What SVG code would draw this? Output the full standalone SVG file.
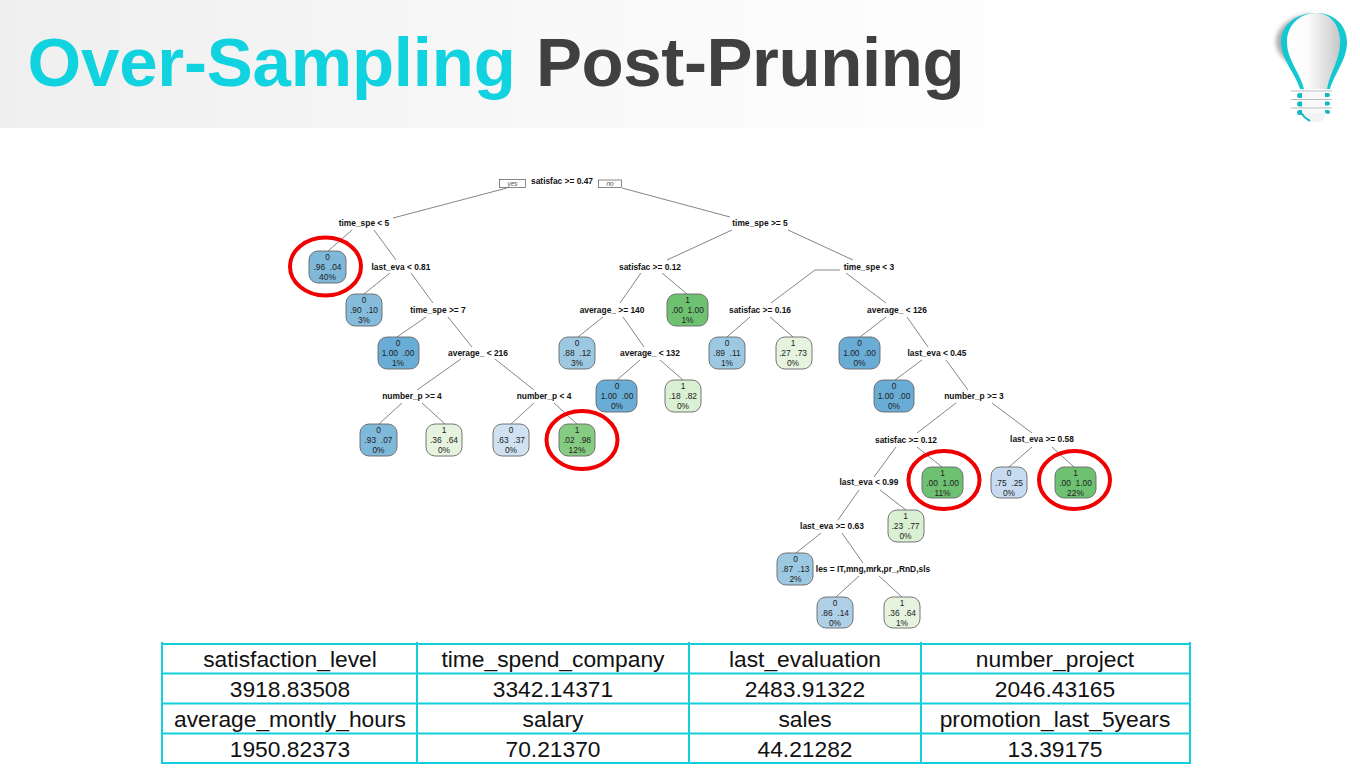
<svg xmlns="http://www.w3.org/2000/svg" width="1360" height="769" viewBox="0 0 1360 769">
<style>
.t{font-family:"Liberation Sans",Arial,sans-serif}
.title{font-size:69px;font-weight:700}
.l{font-family:"Liberation Sans",Arial,sans-serif;font-size:8.4px;font-weight:700;text-anchor:middle;fill:#111}
.n{font-family:"Liberation Sans",Arial,sans-serif;font-size:8.4px;text-anchor:middle;fill:#222;white-space:pre}
.c line,.c polyline{stroke:#666;stroke-width:.8;fill:none}
.b{stroke:#666;stroke-width:.9}
.ring{fill:none;stroke:#f00000;stroke-width:4}
.tb{font-family:"Liberation Sans",Arial,sans-serif;font-size:22.8px;text-anchor:middle;fill:#111}
.g line{stroke:#12cfdb;stroke-width:2}
.yn{fill:#fff;stroke:#555;stroke-width:.7}
.ynt{font-family:"Liberation Sans",Arial,sans-serif;font-size:6.5px;font-style:italic;text-anchor:middle;fill:#555}
</style>
<defs>
<linearGradient id="hd" x1="0" x2="1" y1="0" y2="0"><stop offset="0" stop-color="#efefef"/><stop offset=".55" stop-color="#f8f8f8"/><stop offset="1" stop-color="#fefefe"/></linearGradient>
<linearGradient id="bulb" x1="0" x2="1" y1="0" y2="0"><stop offset="0" stop-color="#fff"/><stop offset=".4" stop-color="#fbfbfb"/><stop offset=".75" stop-color="#dedede"/><stop offset="1" stop-color="#c4c8c8"/></linearGradient>
<filter id="blur" x="-30%" y="-30%" width="160%" height="160%"><feGaussianBlur stdDeviation="2"/></filter>
</defs>
<rect id="header" x="0" y="0" width="985" height="128" fill="url(#hd)"/>
<g id="title"><text class="t title" x="27.500" y="86" fill="#10d3df" letter-spacing="-.2">Over-Sampling</text><text class="t title" x="536" y="86" fill="#404040" letter-spacing="-.4">Post-Pruning</text></g>
<g id="bulb-icon">
<path d="M1276 42C1276 28 1290 15 1312 14L1300 40L1292 66C1283 58 1276 52 1276 42Z" fill="#777" opacity=".6" filter="url(#blur)"/>
<path d="M1281 42C1281 25 1296 13 1316 13C1335 13 1347 26 1347 42C1347 60 1335 72 1330 89L1300 89C1295 72 1281 60 1281 42Z" fill="#14c8d2"/>
<path d="M1287 42C1287 25 1300 13 1316 13C1332 13 1340 27 1340 42C1340 60 1330 72 1327 89L1304 89C1300 72 1287 60 1287 42Z" fill="url(#bulb)"/>
<path d="M1291 91H1332M1291 99.500H1332M1291 108H1332" stroke="#b4bcbd" stroke-width="1" fill="none"/>
<g fill="#14b8c2"><rect x="1297" y="93" width="8" height="5" rx="2.500"/><rect x="1297" y="101.500" width="8" height="5" rx="2.500"/><rect x="1297" y="110" width="8" height="5" rx="2.500"/><rect x="1323" y="93" width="7" height="4" rx="2"/><rect x="1323" y="101.500" width="7" height="4" rx="2"/><rect x="1323" y="110" width="7" height="4" rx="2"/></g>
<g fill="#f8f8f8"><rect x="1302" y="92.500" width="23" height="6"/><rect x="1302" y="101" width="23" height="6"/><rect x="1302" y="109.500" width="23" height="4"/></g>
<path d="M1302 113H1327L1323 120C1319 123 1312 123 1309 120Z" fill="#f2f2f2"/>
<path d="M1301 113C1303 116 1306 119 1310 121" fill="none" stroke="#14b8c2" stroke-width="2"/>
</g>
<g id="connectors" class="c">
<line x1="507" y1="188" x2="393" y2="218"/><line x1="622" y1="188" x2="730" y2="217"/>
<line x1="352" y1="230" x2="328" y2="251"/><line x1="374" y1="230" x2="396" y2="260"/>
<line x1="390" y1="273" x2="364" y2="294"/><line x1="411" y1="273" x2="433" y2="303"/>
<line x1="426" y1="317" x2="397" y2="337"/><line x1="448" y1="317" x2="472" y2="347"/>
<line x1="461" y1="359" x2="417" y2="390"/><line x1="495" y1="359" x2="534" y2="390"/>
<line x1="402" y1="403" x2="379" y2="424"/><line x1="422" y1="403" x2="445" y2="424"/>
<line x1="534" y1="403" x2="511" y2="424"/><line x1="554" y1="403" x2="577" y2="424"/>
<line x1="732" y1="230" x2="667" y2="260"/><line x1="788" y1="230" x2="853" y2="260"/>
<line x1="641" y1="273" x2="620" y2="303"/><line x1="662" y1="273" x2="687" y2="294"/>
<polyline points="840,270 815,270 771,303"/><line x1="846" y1="273" x2="886" y2="303"/>
<line x1="603" y1="317" x2="578" y2="337"/><line x1="623" y1="317" x2="644" y2="347"/>
<line x1="750" y1="317" x2="727" y2="337"/><line x1="770" y1="317" x2="793" y2="337"/>
<line x1="886" y1="317" x2="860" y2="337"/><line x1="907" y1="317" x2="928" y2="347"/>
<line x1="640" y1="360" x2="617" y2="380"/><line x1="660" y1="360" x2="683" y2="380"/>
<line x1="922" y1="360" x2="895" y2="380"/><line x1="946" y1="360" x2="968" y2="390"/>
<line x1="956" y1="403" x2="917" y2="433"/><line x1="992" y1="403" x2="1032" y2="433"/>
<line x1="896" y1="447" x2="874" y2="477"/><line x1="917" y1="447" x2="942" y2="467"/>
<line x1="1032" y1="447" x2="1009" y2="467"/><line x1="1052" y1="447" x2="1074" y2="467"/>
<line x1="859" y1="490" x2="838" y2="520"/><line x1="880" y1="490" x2="906" y2="510"/>
<line x1="821" y1="533" x2="796" y2="553"/><line x1="842" y1="533" x2="863" y2="563"/>
<line x1="859" y1="576" x2="836" y2="597"/><line x1="879" y1="576" x2="902" y2="597"/>
</g>
<g id="decision-labels">
<rect class="yn" x="499.500" y="179.500" width="26" height="8"/><text class="ynt" x="512.500" y="186">yes</text>
<rect class="yn" x="598.500" y="180" width="23" height="7.500"/><text class="ynt" x="610" y="186">no</text>
<text class="l" x="562" y="184">satisfac &gt;= 0.47</text>
<text class="l" x="364" y="226">time_spe &lt; 5</text>
<text class="l" x="401" y="270">last_eva &lt; 0.81</text>
<text class="l" x="438" y="313">time_spe &gt;= 7</text>
<text class="l" x="478" y="356">average_ &lt; 216</text>
<text class="l" x="412" y="399">number_p &gt;= 4</text>
<text class="l" x="544" y="399">number_p &lt; 4</text>
<text class="l" x="760" y="226">time_spe &gt;= 5</text>
<text class="l" x="650" y="270">satisfac &gt;= 0.12</text>
<text class="l" x="869" y="270">time_spe &lt; 3</text>
<text class="l" x="612" y="313">average_ &gt;= 140</text>
<text class="l" x="760" y="313">satisfac &gt;= 0.16</text>
<text class="l" x="897" y="313">average_ &lt; 126</text>
<text class="l" x="650" y="356">average_ &lt; 132</text>
<text class="l" x="937" y="356">last_eva &lt; 0.45</text>
<text class="l" x="974" y="399">number_p &gt;= 3</text>
<text class="l" x="906" y="443">satisfac &gt;= 0.12</text>
<text class="l" x="1042" y="442">last_eva &gt;= 0.58</text>
<text class="l" x="869" y="485">last_eva &lt; 0.99</text>
<text class="l" x="832" y="529">last_eva &gt;= 0.63</text>
<text class="l" x="873" y="572">les = IT,mng,mrk,pr_,RnD,sls</text>
</g>
<g id="n1"><rect class="b" x="309" y="251" width="37" height="32" rx="9" fill="#7fb8d9"/><text class="n" x="327.500" y="260">0</text><text class="n" x="327.500" y="270">.96  .04</text><text class="n" x="327.500" y="280">40%</text></g>
<g id="n2"><rect class="b" x="346" y="294" width="36" height="32" rx="9" fill="#86bcdb"/><text class="n" x="364" y="303">0</text><text class="n" x="364" y="313">.90  .10</text><text class="n" x="364" y="323">3%</text></g>
<g id="n3"><rect class="b" x="378" y="337" width="41" height="32" rx="9" fill="#69add6"/><text class="n" x="398" y="346">0</text><text class="n" x="398" y="356">1.00  .00</text><text class="n" x="398" y="366">1%</text></g>
<g id="n4"><rect class="b" x="360" y="424" width="37" height="32" rx="9" fill="#7fb8d9"/><text class="n" x="378.500" y="433">0</text><text class="n" x="378.500" y="443">.93  .07</text><text class="n" x="378.500" y="453">0%</text></g>
<g id="n5"><rect class="b" x="426" y="424" width="36" height="32" rx="9" fill="#e5f3df"/><text class="n" x="444" y="433">1</text><text class="n" x="444" y="443">.36  .64</text><text class="n" x="444" y="453">0%</text></g>
<g id="n6"><rect class="b" x="493" y="424" width="36" height="32" rx="9" fill="#d0e2f2"/><text class="n" x="511" y="433">0</text><text class="n" x="511" y="443">.63  .37</text><text class="n" x="511" y="453">0%</text></g>
<g id="n7"><rect class="b" x="559" y="424" width="36" height="32" rx="9" fill="#86cb82"/><text class="n" x="577" y="433">1</text><text class="n" x="577" y="443">.02  .98</text><text class="n" x="577" y="453">12%</text></g>
<g id="n8"><rect class="b" x="559" y="337" width="36" height="32" rx="9" fill="#9cc8e1"/><text class="n" x="577" y="346">0</text><text class="n" x="577" y="356">.88  .12</text><text class="n" x="577" y="366">3%</text></g>
<g id="n9"><rect class="b" x="596" y="380" width="41" height="32" rx="9" fill="#69add6"/><text class="n" x="617" y="389">0</text><text class="n" x="617" y="399">1.00  .00</text><text class="n" x="617" y="409">0%</text></g>
<g id="n10"><rect class="b" x="665" y="380" width="36" height="32" rx="9" fill="#d9f0d3"/><text class="n" x="683" y="389">1</text><text class="n" x="683" y="399">.18  .82</text><text class="n" x="683" y="409">0%</text></g>
<g id="n11"><rect class="b" x="667" y="294" width="41" height="32" rx="9" fill="#6fc172"/><text class="n" x="687.500" y="303">1</text><text class="n" x="687.500" y="313">.00  1.00</text><text class="n" x="687.500" y="323">1%</text></g>
<g id="n12"><rect class="b" x="709" y="337" width="36" height="32" rx="9" fill="#9cc8e1"/><text class="n" x="727" y="346">0</text><text class="n" x="727" y="356">.89  .11</text><text class="n" x="727" y="366">1%</text></g>
<g id="n13"><rect class="b" x="776" y="337" width="36" height="32" rx="9" fill="#e5f3df"/><text class="n" x="793" y="346">1</text><text class="n" x="793" y="356">.27  .73</text><text class="n" x="793" y="366">0%</text></g>
<g id="n14"><rect class="b" x="839" y="337" width="41" height="32" rx="9" fill="#69add6"/><text class="n" x="859.500" y="346">0</text><text class="n" x="859.500" y="356">1.00  .00</text><text class="n" x="859.500" y="366">0%</text></g>
<g id="n15"><rect class="b" x="874" y="380" width="40" height="32" rx="9" fill="#69add6"/><text class="n" x="894" y="389">0</text><text class="n" x="894" y="399">1.00  .00</text><text class="n" x="894" y="409">0%</text></g>
<g id="n16"><rect class="b" x="922" y="467" width="41" height="31" rx="9" fill="#6fc172"/><text class="n" x="942.500" y="476">1</text><text class="n" x="942.500" y="486">.00  1.00</text><text class="n" x="942.500" y="496">11%</text></g>
<g id="n17"><rect class="b" x="991" y="467" width="36" height="31" rx="9" fill="#c6dbef"/><text class="n" x="1009" y="476">0</text><text class="n" x="1009" y="486">.75  .25</text><text class="n" x="1009" y="496">0%</text></g>
<g id="n18"><rect class="b" x="1055" y="467" width="41" height="31" rx="9" fill="#6fc172"/><text class="n" x="1075.500" y="476">1</text><text class="n" x="1075.500" y="486">.00  1.00</text><text class="n" x="1075.500" y="496">22%</text></g>
<g id="n19"><rect class="b" x="888" y="510" width="36" height="32" rx="9" fill="#d9f0d3"/><text class="n" x="905.500" y="519">1</text><text class="n" x="905.500" y="529">.23  .77</text><text class="n" x="905.500" y="539">0%</text></g>
<g id="n20"><rect class="b" x="777" y="553" width="36" height="32" rx="9" fill="#9cc8e1"/><text class="n" x="795.500" y="562">0</text><text class="n" x="795.500" y="572">.87  .13</text><text class="n" x="795.500" y="582">2%</text></g>
<g id="n21"><rect class="b" x="817" y="597" width="36" height="31" rx="9" fill="#b0d0e8"/><text class="n" x="835" y="606">0</text><text class="n" x="835" y="616">.86  .14</text><text class="n" x="835" y="626">0%</text></g>
<g id="n22"><rect class="b" x="884" y="597" width="36" height="31" rx="9" fill="#e5f3df"/><text class="n" x="902" y="606">1</text><text class="n" x="902" y="616">.36  .64</text><text class="n" x="902" y="626">1%</text></g>
<g id="rings">
<ellipse class="ring" cx="325.500" cy="266.500" rx="35.500" ry="29"/>
<ellipse class="ring" cx="582" cy="440" rx="35.500" ry="29"/>
<ellipse class="ring" cx="944" cy="480" rx="35.500" ry="29"/>
<ellipse class="ring" cx="1074.500" cy="480" rx="35.500" ry="29"/>
</g>
<g id="table">
<g class="g">
<line x1="161" y1="644" x2="1191" y2="644"/><line x1="161" y1="673.500" x2="1191" y2="673.500"/><line x1="161" y1="703.500" x2="1191" y2="703.500"/><line x1="161" y1="733.500" x2="1191" y2="733.500"/><line x1="161" y1="763" x2="1191" y2="763"/>
<line x1="162" y1="642" x2="162" y2="764"/><line x1="417" y1="642" x2="417" y2="764"/><line x1="689" y1="642" x2="689" y2="764"/><line x1="921" y1="642" x2="921" y2="764"/><line x1="1190" y1="642" x2="1190" y2="764"/>
</g>
<text class="tb" x="290" y="667">satisfaction_level</text><text class="tb" x="553" y="667">time_spend_company</text><text class="tb" x="805" y="667">last_evaluation</text><text class="tb" x="1055" y="667">number_project</text>
<text class="tb" x="290" y="697">3918.83508</text><text class="tb" x="553" y="697">3342.14371</text><text class="tb" x="805" y="697">2483.91322</text><text class="tb" x="1055" y="697">2046.43165</text>
<text class="tb" x="290" y="727">average_montly_hours</text><text class="tb" x="553" y="727">salary</text><text class="tb" x="805" y="727">sales</text><text class="tb" x="1055" y="727">promotion_last_5years</text>
<text class="tb" x="290" y="757">1950.82373</text><text class="tb" x="553" y="757">70.21370</text><text class="tb" x="805" y="757">44.21282</text><text class="tb" x="1055" y="757">13.39175</text>
</g>
</svg>
